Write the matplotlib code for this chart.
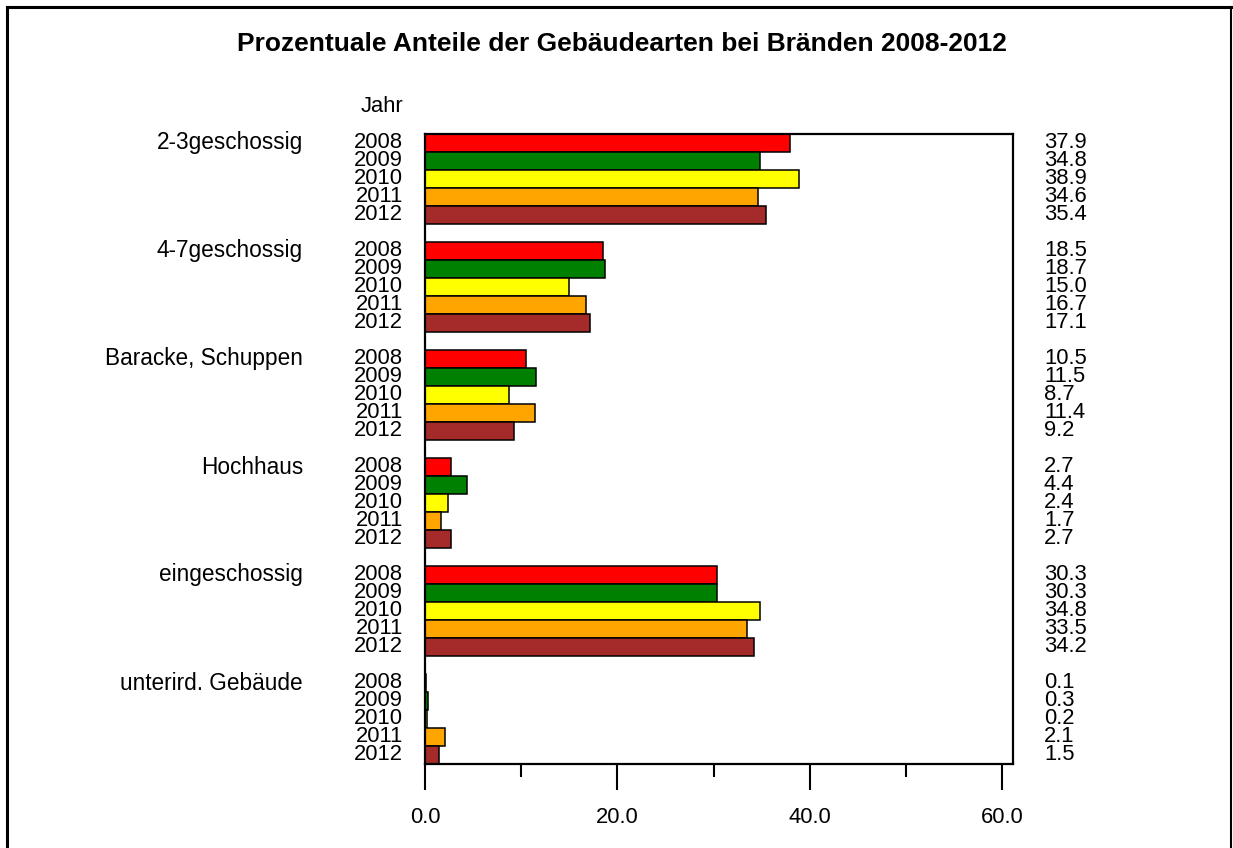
import matplotlib
matplotlib.use("Agg")
import matplotlib.pyplot as plt
from matplotlib.lines import Line2D
from matplotlib.transforms import blended_transform_factory

plt.rcParams['font.family'] = ['Liberation Sans', 'DejaVu Sans']

categories = ["2-3geschossig", "4-7geschossig", "Baracke, Schuppen", "Hochhaus",
              "eingeschossig", "unterird. Gebäude"]
years = ["2008", "2009", "2010", "2011", "2012"]
values = {
    "2008": [37.9, 18.5, 10.5, 2.7, 30.3, 0.1],
    "2009": [34.8, 18.7, 11.5, 4.4, 30.3, 0.3],
    "2010": [38.9, 15.0, 8.7, 2.4, 34.8, 0.2],
    "2011": [34.6, 16.7, 11.4, 1.7, 33.5, 2.1],
    "2012": [35.4, 17.1, 9.2, 2.7, 34.2, 1.5],
}
colors = ["#FF0000", "#008000", "#FFFF00", "#FFA500", "#A52A2A"]
title = "Prozentuale Anteile der Gebäudearten bei Bränden 2008-2012"

W, H = 1233, 848
fig = plt.figure(figsize=(W / 100, H / 100), dpi=100)
ax = fig.add_axes([425 / W, 1 - 764 / H, (1013 - 425) / W, (764 - 134) / H])

FS = 15.8
FS_CAT = 16.3
slot = len(years) + 1
for j, (yr, col) in enumerate(zip(years, colors)):
    ys = [slot * i + j for i in range(len(categories))]
    ax.barh(ys, values[yr], height=1.0, color=col, edgecolor="black", linewidth=1.1)

ax.set_xlim(0, 61.1)
ax.set_ylim(len(categories) * slot - 1 - 0.5, -0.5)
ax.set_yticks([])
ax.set_xticks([0, 20, 40, 60])
ax.set_xticklabels(["0.0", "20.0", "40.0", "60.0"], fontsize=FS)
ax.set_xticks([10, 30, 50], minor=True)
ax.tick_params(axis='x', which='major', length=18.7, width=1.5, pad=12, direction='out')
ax.tick_params(axis='x', which='minor', length=9.4, width=1.5, direction='out')
for s in ax.spines.values():
    s.set_linewidth(1.6)

tr = blended_transform_factory(fig.transFigure, ax.transData)
for i, cat in enumerate(categories):
    y0 = slot * i
    ax.text(303 / W, y0, cat, transform=tr, ha="right", va="center", fontsize=FS_CAT, clip_on=False)
    for j, yr in enumerate(years):
        ax.text(403 / W, y0 + j, yr, transform=tr, ha="right", va="center", fontsize=FS, clip_on=False)
        ax.text(1044 / W, y0 + j, f"{values[yr][i]:.1f}", transform=tr, ha="left", va="center",
                fontsize=FS, clip_on=False)

fig.text(403 / W, 1 - 106 / H, "Jahr", ha="right", va="center", fontsize=FS)
fig.text(622 / W, 1 - 44 / H, title, ha="center", va="center", fontsize=19, fontweight="bold")

# outer frame
fig.add_artist(Line2D([7 / W, 7 / W], [0, 1 - 7 / H], transform=fig.transFigure, color="black", lw=2.2))
fig.add_artist(Line2D([7 / W, 1], [1 - 7 / H, 1 - 7 / H], transform=fig.transFigure, color="black", lw=2.2))
fig.add_artist(Line2D([1231 / W, 1231 / W], [0, 1 - 7 / H], transform=fig.transFigure, color="black", lw=1.5))

fig.savefig("out.png", dpi=100)
